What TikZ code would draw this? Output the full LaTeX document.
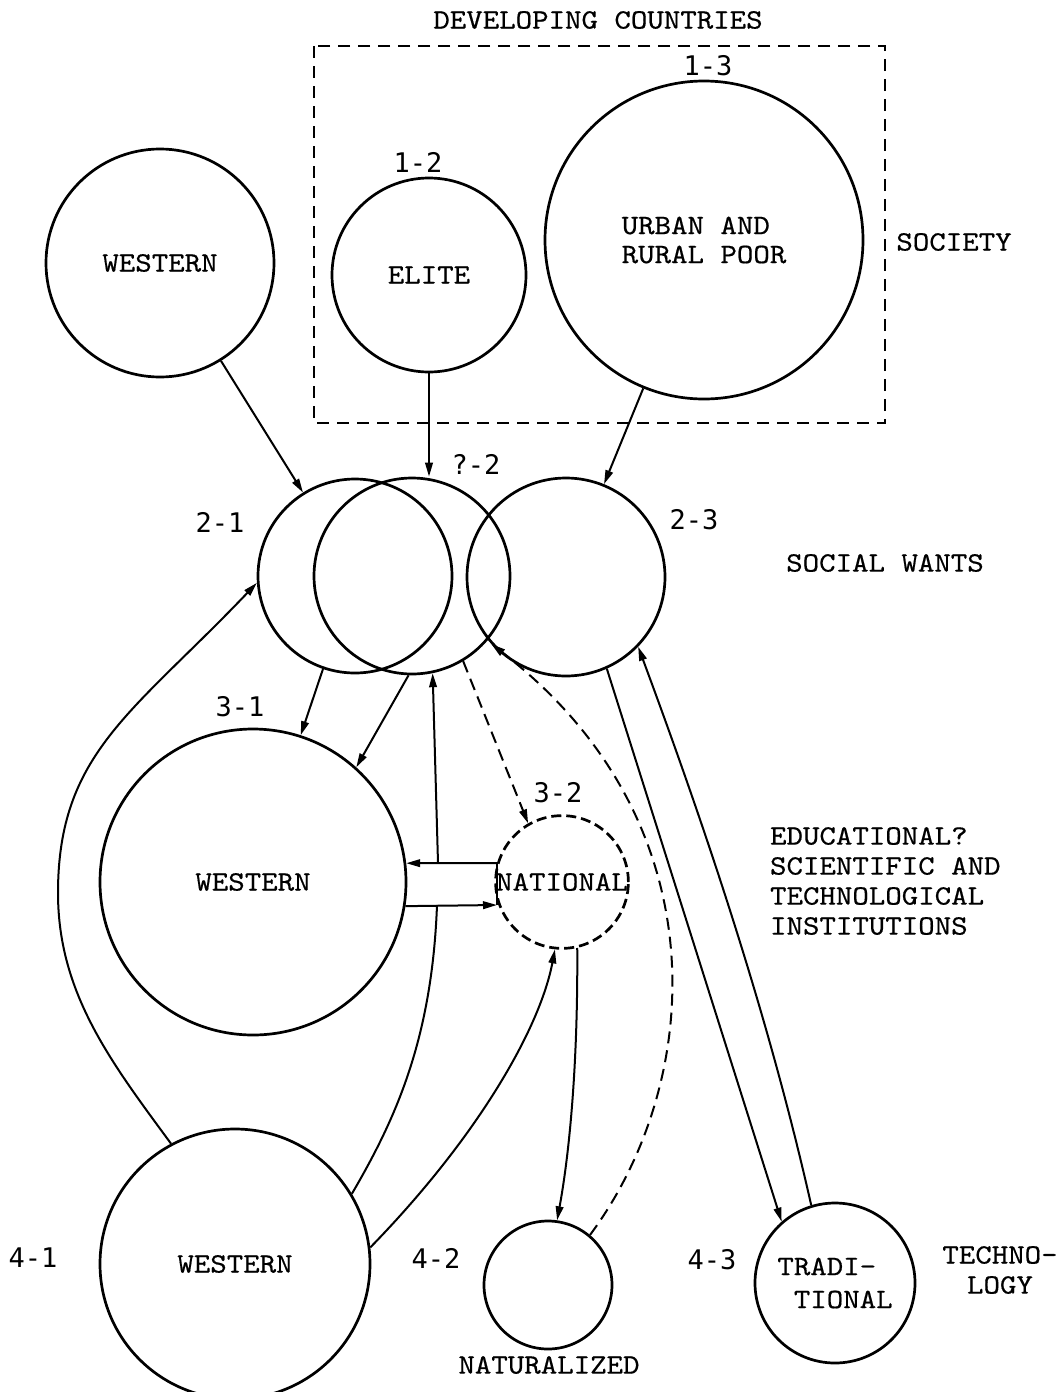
\documentclass[tikz,border=0pt]{standalone}
\usepackage{fontspec}
\setmainfont{lmmono10-regular.otf}[FakeStretch=1.12,FakeBold=0.5]
\newfontfamily\labfont{DejaVu Sans Mono}
\usetikzlibrary{arrows.meta}

\begin{document}
\begin{tikzpicture}[x=0.5pt,y=-0.5pt,
  every node/.style={font=\fontsize{14}{15}\selectfont},
  ring/.style={draw, circle, line width=1.35pt, inner sep=0pt},
  dashring/.style={ring, dash pattern=on 5pt off 2.5pt},
  lab/.style={font=\labfont\fontsize{13.5}{15}\selectfont},
  flow/.style={line width=1pt, -{Triangle[length=7pt,width=3.8pt]}},
  link/.style={line width=1pt},
  dflow/.style={flow, dash pattern=on 6pt off 3.5pt},
]
\useasboundingbox (0,0) rectangle (1063,1392);

% ---- society level ----
\node (devtitle) at (598,20) {DEVELOPING COUNTRIES};
\draw[line width=1.1pt, dash pattern=on 6pt off 4pt] (314,46) rectangle (885,423);

\node[ring, minimum size=114pt] (W1) at (160,263) {WESTERN};
\node[ring, minimum size=97pt] (E) at (429,275) {ELITE};
\node[ring, minimum size=159pt, align=left, font=\fontsize{14}{14.5}\selectfont] (P) at (704,240) {URBAN AND\\RURAL POOR};
\node[lab] (l12) at (418,162) {1-2};
\node[lab] (l13) at (708,66) {1-3};
\node (society) at (954,242) {SOCIETY};

% ---- social wants ----
\node[ring, minimum size=97pt] (S1) at (355,576) {};
\node[ring, minimum size=98pt] (S2) at (412,576) {};
\node[ring, minimum size=99pt] (S3) at (566,577) {};
\node[lab] (l21) at (220,522) {2-1};
\node[lab] (l22) at (476,464) {?-2};
\node[lab] (l23) at (694,520) {2-3};
\node (wants) at (885,563) {SOCIAL WANTS};

% ---- institutions ----
\node[ring, minimum size=153pt] (I1) at (253,882) {WESTERN};
\node[dashring, minimum size=65pt] (I2) at (562,882) {NATIONAL};
\node[lab] (l31) at (240,707) {3-1};
\node[lab] (l32) at (558,793) {3-2};
\node[anchor=west, align=left] (inst) at (763,881)
  {EDUCATIONAL?\\SCIENTIFIC AND\\TECHNOLOGICAL\\INSTITUTIONS};

% ---- technology ----
\node[ring, minimum size=135pt] (T1) at (235,1264) {WESTERN};
\node[ring, minimum size=64pt] (T2) at (548,1285) {};
\node[ring, minimum size=80pt, align=left, font=\fontsize{14}{16.5}\selectfont] (T3) at (835,1283)
  {TRADI-\\\hphantom{T}TIONAL};
\node[lab] (l41) at (33,1258) {4-1};
\node[lab] (l42) at (436,1258) {4-2};
\node[lab] (l43) at (712,1260) {4-3};
\node (natz) at (549,1365) {NATURALIZED};
\node[align=center] (techno) at (1000,1270) {TECHNO-\\LOGY};

% ---- connectors ----
\draw[flow] (W1) -- (S1);
\draw[flow] (E.south) -- (E.south |- S2.north);
\draw[flow] (P) -- (S3);

\draw[flow] (S1.-109) -- (I1.72);
\draw[flow] (S2.-92) -- (I1.48);

% exchange between western and national institutions
\coordinate (bxTR) at (497,863);
\coordinate (bxBR) at (497,905);
\coordinate (bxT) at (438,863);
\coordinate (bxB) at (437,905);
\draw[flow] (bxTR) -- (I1.7);
\draw[flow] (I1.-9) -- (bxBR);
\draw[link] (bxTR) -- (bxBR);
\draw[flow] (bxT) -- (S2.-78);
\draw[link] (bxB) .. controls (432,1040) and (395,1120) .. (T1.31);

\coordinate (bendL) at (58,893);
\draw[flow] (T1.118) .. controls (111,1062) and (58,993) .. (bendL)
  .. controls (58,753) and (133,713) .. (S1.184);
\draw[flow] (T1.7) .. controls (478,1137) and (540,1028) .. (I2.-96);
\draw[flow] (I2.-77) .. controls (578,1060) and (570,1150) .. (T2.82);

\draw[dflow] (S2.-59) -- (I2.120);
\draw[dflow] (T2.50) .. controls (705,1080) and (720,820) .. (S3.-138);

\draw[flow] (S3.-66) -- (T3.131);
\draw[flow] (T3.107) .. controls (765,1000) and (695,800) .. (S3.-44);
\end{tikzpicture}
\end{document}
